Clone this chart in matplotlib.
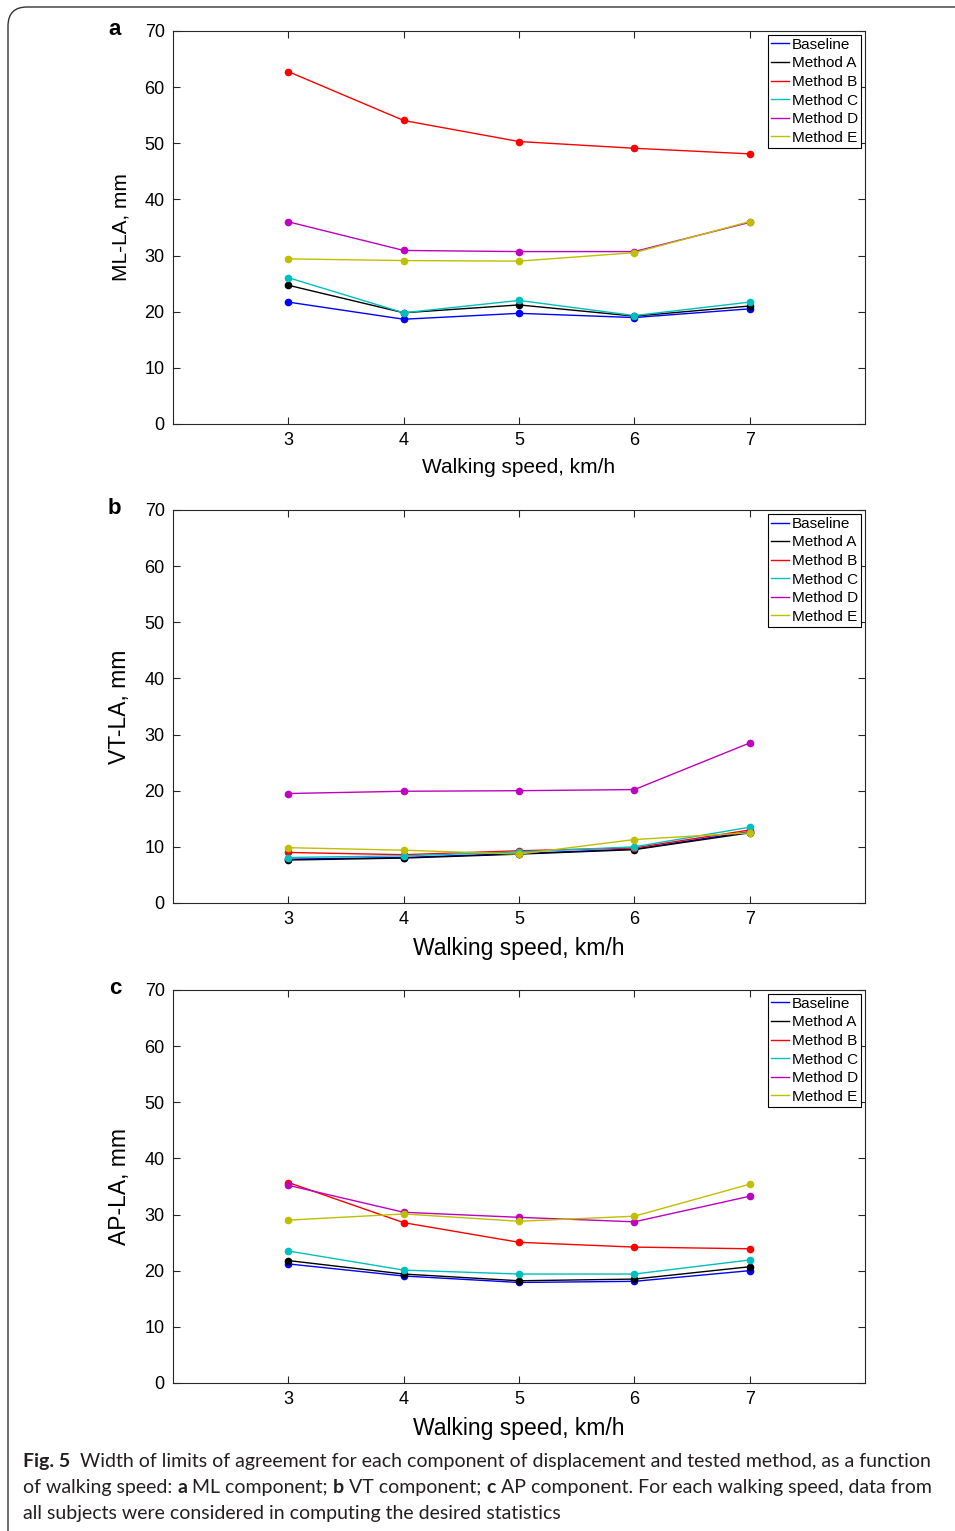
import matplotlib

matplotlib.use("Agg")
import matplotlib.pyplot as plt
from matplotlib import font_manager
from matplotlib.patches import FancyBboxPatch

SPEEDS = [3, 4, 5, 6, 7]
METHODS = ["Baseline", "Method A", "Method B", "Method C", "Method D", "Method E"]
COLORS = ["#0000ff", "#000000", "#ff0000", "#00bfbf", "#bf00bf", "#bfbf00"]

# rows follow METHODS order
ML_LA = [
    [21.7, 18.65, 19.7, 18.95, 20.5],
    [24.7, 19.8, 21.2, 19.2, 21.0],
    [62.75, 54.05, 50.3, 49.1, 48.1],
    [26.05, 19.8, 22.0, 19.3, 21.7],
    [36.0, 30.9, 30.7, 30.7, 35.9],
    [29.4, 29.1, 29.0, 30.5, 36.05],
]
VT_LA = [
    [7.8, 8.1, 8.8, 9.6, 12.7],
    [7.65, 8.0, 8.7, 9.5, 12.5],
    [9.0, 8.6, 9.3, 9.8, 13.0],
    [8.1, 8.4, 9.1, 10.0, 13.5],
    [19.5, 19.9, 20.0, 20.2, 28.5],
    [9.85, 9.4, 8.7, 11.3, 12.5],
]
AP_LA = [
    [21.2, 19.05, 17.9, 18.1, 20.0],
    [21.8, 19.4, 18.2, 18.5, 20.7],
    [35.7, 28.55, 25.05, 24.2, 23.9],
    [23.5, 20.1, 19.4, 19.4, 21.9],
    [35.2, 30.4, 29.5, 28.7, 33.25],
    [29.0, 30.1, 28.8, 29.7, 35.4],
]

PANELS = [
    ("a", ML_LA, "ML-LA, mm", 15, 0.7231),
    ("b", VT_LA, "VT-LA, mm", 16.5, 0.4102),
    ("c", AP_LA, "AP-LA, mm", 16.5, 0.0967),
]

W, H = 955, 1531
names = {f.name for f in font_manager.fontManager.ttflist}
CAP_FONT = "Liberation Sans Narrow" if "Liberation Sans Narrow" in names else "Lato"

plt.rcParams["font.family"] = ["Liberation Sans", "Arimo", "DejaVu Sans"]
fig = plt.figure(figsize=(W / 100, H / 100), dpi=100)

# rounded page frame (runs off the right and bottom edges)
frame = FancyBboxPatch((8 / W, -0.05), 1.1, 1 - 7 / H + 0.05,
                       boxstyle="round,pad=0,rounding_size=0.02",
                       transform=fig.transFigure, fill=False,
                       ec="#333333", lw=1.0, mutation_aspect=W / H)
fig.patches.append(frame)

ax_left, ax_w, ax_h = 173 / W, 692 / W, 393 / H
edge = "#262626"
for letter, data, ylabel, lsize, bottom in PANELS:
    ax = fig.add_axes([ax_left, bottom, ax_w, ax_h])
    for name, color, vals in zip(METHODS, COLORS, data):
        ax.plot(SPEEDS, vals, "-o", color=color, lw=1.0, ms=4.5,
                mec=color, mfc=color, label=name)
    ax.set_xlim(2, 8)
    ax.set_ylim(0, 70)
    ax.set_xticks(SPEEDS)
    ax.set_yticks(range(0, 71, 10))
    ax.tick_params(direction="in", top=True, right=True, length=5,
                   width=0.8, color=edge, labelsize=13, pad=6)
    for s in ax.spines.values():
        s.set_color(edge)
        s.set_linewidth(0.8)
    ax.set_xlabel("Walking speed, km/h", fontsize=lsize, labelpad=6)
    ax.set_ylabel(ylabel, fontsize=lsize, labelpad=10)
    ax.text(-0.075, 1.003, letter, transform=ax.transAxes, fontsize=16,
            fontweight="bold", ha="right", va="center")
    leg = ax.legend(loc="upper right", fontsize=11, handlelength=1.2,
                    handletextpad=0.2, labelspacing=0.3, borderpad=0.2,
                    borderaxespad=0.25, fancybox=False, framealpha=1)
    leg.get_frame().set_edgecolor("#000000")
    leg.get_frame().set_linewidth(0.8)
    for h in leg.legend_handles:
        h.set_marker("")

# caption, drawn piece by piece so bold bits sit inline
CAPTION = [
    [("Fig. 5", True), ("  Width of limits of agreement for each component of displacement and tested method, as a function", False)],
    [("of walking speed: ", False), ("a", True), (" ML component; ", False), ("b", True),
     (" VT component; ", False), ("c", True), (" AP component. For each walking speed, data from", False)],
    [("all subjects were considered in computing the desired statistics", False)],
]
renderer = fig.canvas.get_renderer()


def draw_line(pieces, y, size):
    x = 23 / W
    for text, bold in pieces:
        t = fig.text(x, y, text, fontsize=size, family=CAP_FONT,
                     fontweight="bold" if bold else "normal",
                     va="baseline", ha="left", color="#231f20")
        x += t.get_window_extent(renderer).width / W
    return x


# pick the size that makes the first line span the same width as the reference
size = 14
probe = fig.text(0, 0, "".join(p for p, _ in CAPTION[0]), fontsize=size, family=CAP_FONT)
wpx = probe.get_window_extent(renderer).width
probe.remove()
size = size * 910 / wpx
for i, line in enumerate(CAPTION):
    draw_line(line, 1 - (1467 + 26 * i) / H, size)

fig.savefig("out.png", dpi=100)
